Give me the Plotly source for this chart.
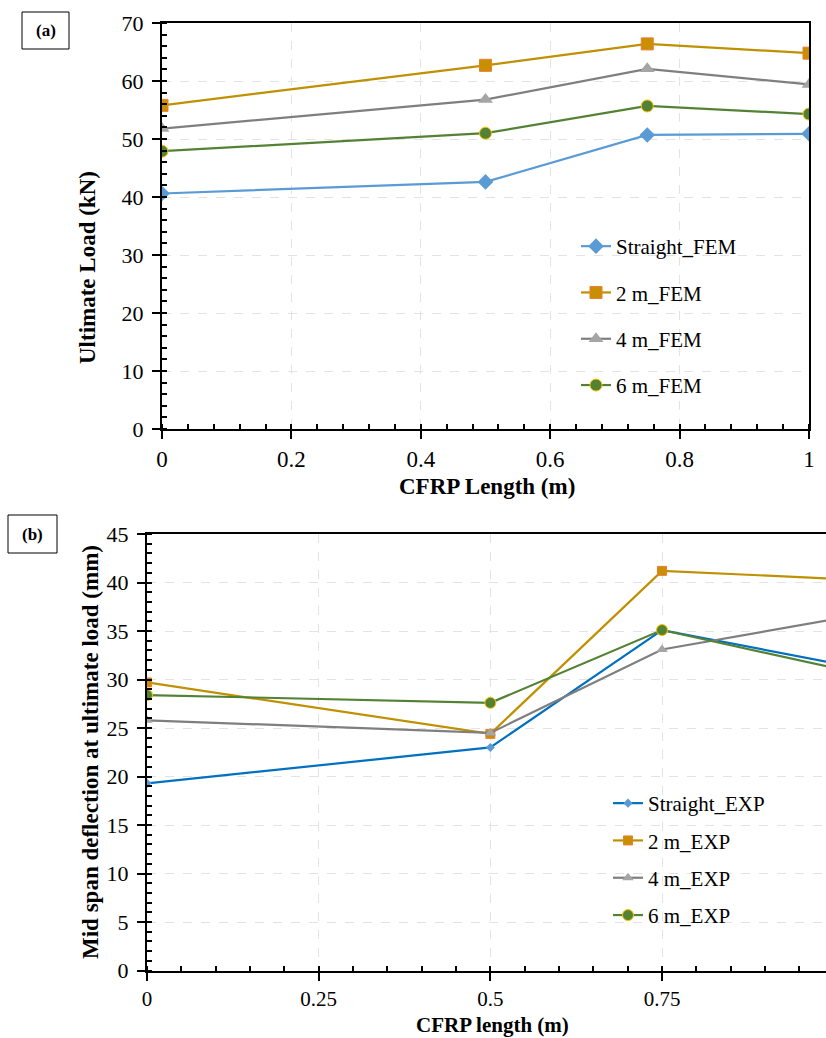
import plotly.graph_objects as go

# ---------------- data ----------------
cfrp_len = [0, 0.5, 0.75, 1]

fem_straight = [40.6, 42.6, 50.7, 50.9]
fem_2m = [55.8, 62.7, 66.4, 64.8]
fem_4m = [51.8, 56.8, 62.1, 59.4]
fem_6m = [47.9, 51.0, 55.7, 54.3]

exp_straight = [19.3, 23.0, 35.1, 31.7]
exp_2m = [29.7, 24.4, 41.2, 40.4]
exp_4m = [25.8, 24.5, 33.1, 36.2]
exp_6m = [28.4, 27.6, 35.1, 31.2]

fem_names = ["Straight_FEM", "2 m_FEM", "4 m_FEM", "6 m_FEM"]
exp_names = ["Straight_EXP", "2 m_EXP", "4 m_EXP", "6 m_EXP"]

x2_ticks = [0, 0.25, 0.5, 0.75, 1]
x2_ticktext = ["0", "0.25", "0.5", "0.75", "1"]

W, H = 826, 1038
FONT = "Liberation Serif, Times New Roman, serif"

def px_x(v):
    return v / W

def px_y(v):
    return 1 - v / H

fig = go.Figure()

fem_styles = [
    dict(line=dict(color="#5B9BD5", width=2.2),
         marker=dict(symbol="diamond", size=12, color="#5B9BD5", line=dict(width=0))),
    dict(line=dict(color="#BF9000", width=2.2),
         marker=dict(symbol="square", size=12, color="#C88F00", line=dict(color="#ED7D31", width=1))),
    dict(line=dict(color="#7F7F7F", width=2.2),
         marker=dict(symbol="triangle-up", size=13, color="#A5A5A5", line=dict(width=0))),
    dict(line=dict(color="#548235", width=2.2),
         marker=dict(symbol="circle", size=12, color="#548235", line=dict(color="#FFC000", width=1))),
]
exp_styles = [
    dict(line=dict(color="#0070C0", width=2.2),
         marker=dict(symbol="diamond", size=7, color="#5B9BD5", line=dict(width=0))),
    dict(line=dict(color="#BF9000", width=2.2),
         marker=dict(symbol="square", size=9, color="#C88F00", line=dict(color="#ED7D31", width=1))),
    dict(line=dict(color="#7F7F7F", width=2.2),
         marker=dict(symbol="triangle-up", size=10, color="#A5A5A5", line=dict(width=0))),
    dict(line=dict(color="#548235", width=2.2),
         marker=dict(symbol="circle", size=11, color="#548235", line=dict(color="#FFC000", width=1))),
]

for i, (name, ys) in enumerate(zip(fem_names, [fem_straight, fem_2m, fem_4m, fem_6m])):
    fig.add_trace(go.Scatter(x=cfrp_len, y=ys, name=name, mode="lines+markers",
                             xaxis="x", yaxis="y", legend="legend",
                             legendgroup="f%d" % i, **fem_styles[i]))

for i, (name, ys) in enumerate(zip(exp_names, [exp_straight, exp_2m, exp_4m, exp_6m])):
    fig.add_trace(go.Scatter(x=cfrp_len, y=ys, name=name, mode="lines+markers",
                             xaxis="x2", yaxis="y2", legend="legend2",
                             legendgroup="e%d" % i, **exp_styles[i]))

ytickfont = dict(family=FONT, size=22, color="black")
xtickfont = dict(family=FONT, size=23, color="black")
x2tickfont = dict(family=FONT, size=21, color="black")
common = dict(showline=True, linewidth=2, linecolor="black",
              ticks="outside", ticklen=8, tickwidth=2, tickcolor="black",
              showgrid=True, gridcolor="#E3E3E3", griddash="dash", gridwidth=1,
              zeroline=False, fixedrange=True, automargin=False)

minor_style = dict(ticks="inside", ticklen=5, tickwidth=1.5, tickcolor="black", showgrid=False)

# inner half of the crossing major ticks (overlay axes without labels)
inner = dict(ticks="inside", ticklen=6, tickwidth=2, tickcolor="black", showline=False,
             showgrid=False, zeroline=False, showticklabels=False, fixedrange=True, automargin=False)

top_xdom = [px_x(162), px_x(809)]
top_ydom = [px_y(429), px_y(23)]
bot_xdom = [px_x(147), 1.0]
bot_ydom = [px_y(970.6), px_y(534)]
bot_xrange = [0, (826 - 147) / 686.7]

fig.update_layout(
    width=W, height=H,
    margin=dict(l=0, r=0, t=0, b=0, autoexpand=False),
    paper_bgcolor="white", plot_bgcolor="white",
    font=dict(family=FONT, color="black"),
    showlegend=True,
    xaxis=dict(domain=top_xdom, range=[0, 1], dtick=0.2, tick0=0, tickfont=xtickfont,
               anchor="y", mirror=True, minor=dict(dtick=0.04, **minor_style), **common),
    yaxis=dict(domain=top_ydom, range=[0, 70], dtick=10, tick0=0, tickfont=ytickfont,
               ticklabelstandoff=4,
               anchor="x", mirror=True, minor=dict(dtick=2, **minor_style), **common),
    xaxis2=dict(domain=bot_xdom, range=bot_xrange, tickfont=x2tickfont,
                tickvals=x2_ticks, ticktext=x2_ticktext,
                anchor="y2", mirror=True, minor=dict(dtick=0.05, **minor_style), **common),
    yaxis2=dict(domain=bot_ydom, range=[0, 45], dtick=5, tick0=0, tickfont=ytickfont,
                ticklabelstandoff=4,
                anchor="x2", mirror=False, minor=dict(dtick=1, **minor_style), **common),
    xaxis3=dict(domain=top_xdom, range=[0, 1], dtick=0.2, tick0=0, anchor="y", overlaying="x", **inner),
    yaxis3=dict(domain=top_ydom, range=[0, 70], dtick=10, tick0=0, anchor="x", overlaying="y", **inner),
    xaxis4=dict(domain=bot_xdom, range=bot_xrange, tickvals=x2_ticks, anchor="y2", overlaying="x2", **inner),
    yaxis4=dict(domain=bot_ydom, range=[0, 45], dtick=5, tick0=0, anchor="x2", overlaying="y2", **inner),
    legend=dict(x=px_x(576), y=px_y(226), xanchor="left", yanchor="top",
                bgcolor="rgba(0,0,0,0)", font=dict(family=FONT, size=21, color="black"),
                traceorder="grouped", tracegroupgap=16, itemwidth=30),
    legend2=dict(x=px_x(608), y=px_y(783), xanchor="left", yanchor="top",
                 bgcolor="rgba(0,0,0,0)", font=dict(family=FONT, size=21, color="black"),
                 traceorder="grouped", tracegroupgap=7, itemwidth=30),
)

title_font = dict(family=FONT, size=23, color="black")

def add_text(text, x, y, angle=0, font=title_font):
    fig.add_annotation(text=text, xref="paper", yref="paper", x=px_x(x), y=px_y(y),
                       xanchor="center", yanchor="middle", showarrow=False,
                       textangle=angle, font=font)

add_text("<b>CFRP Length (m)</b>", 487, 487)
add_text("<b>Ultimate Load (kN)</b>", 87, 268, -90)
add_text("<b>CFRP length (m)</b>", 492, 1025, font=dict(family=FONT, size=21, color="black"))
add_text("<b>Mid span deflection at ultimate load (mm)</b>", 90, 752, -90)

# panel labels
label_font = dict(family=FONT, size=17, color="black")
fig.add_shape(type="rect", xref="paper", yref="paper",
              x0=px_x(22), x1=px_x(69), y0=px_y(49), y1=px_y(12),
              line=dict(color="black", width=1))
add_text("<b>(a)</b>", 45.5, 30.5, font=label_font)
fig.add_shape(type="rect", xref="paper", yref="paper",
              x0=px_x(8), x1=px_x(57), y0=px_y(553), y1=px_y(515),
              line=dict(color="black", width=1))
add_text("<b>(b)</b>", 32.5, 534, font=label_font)

fig.write_html("out.html")
